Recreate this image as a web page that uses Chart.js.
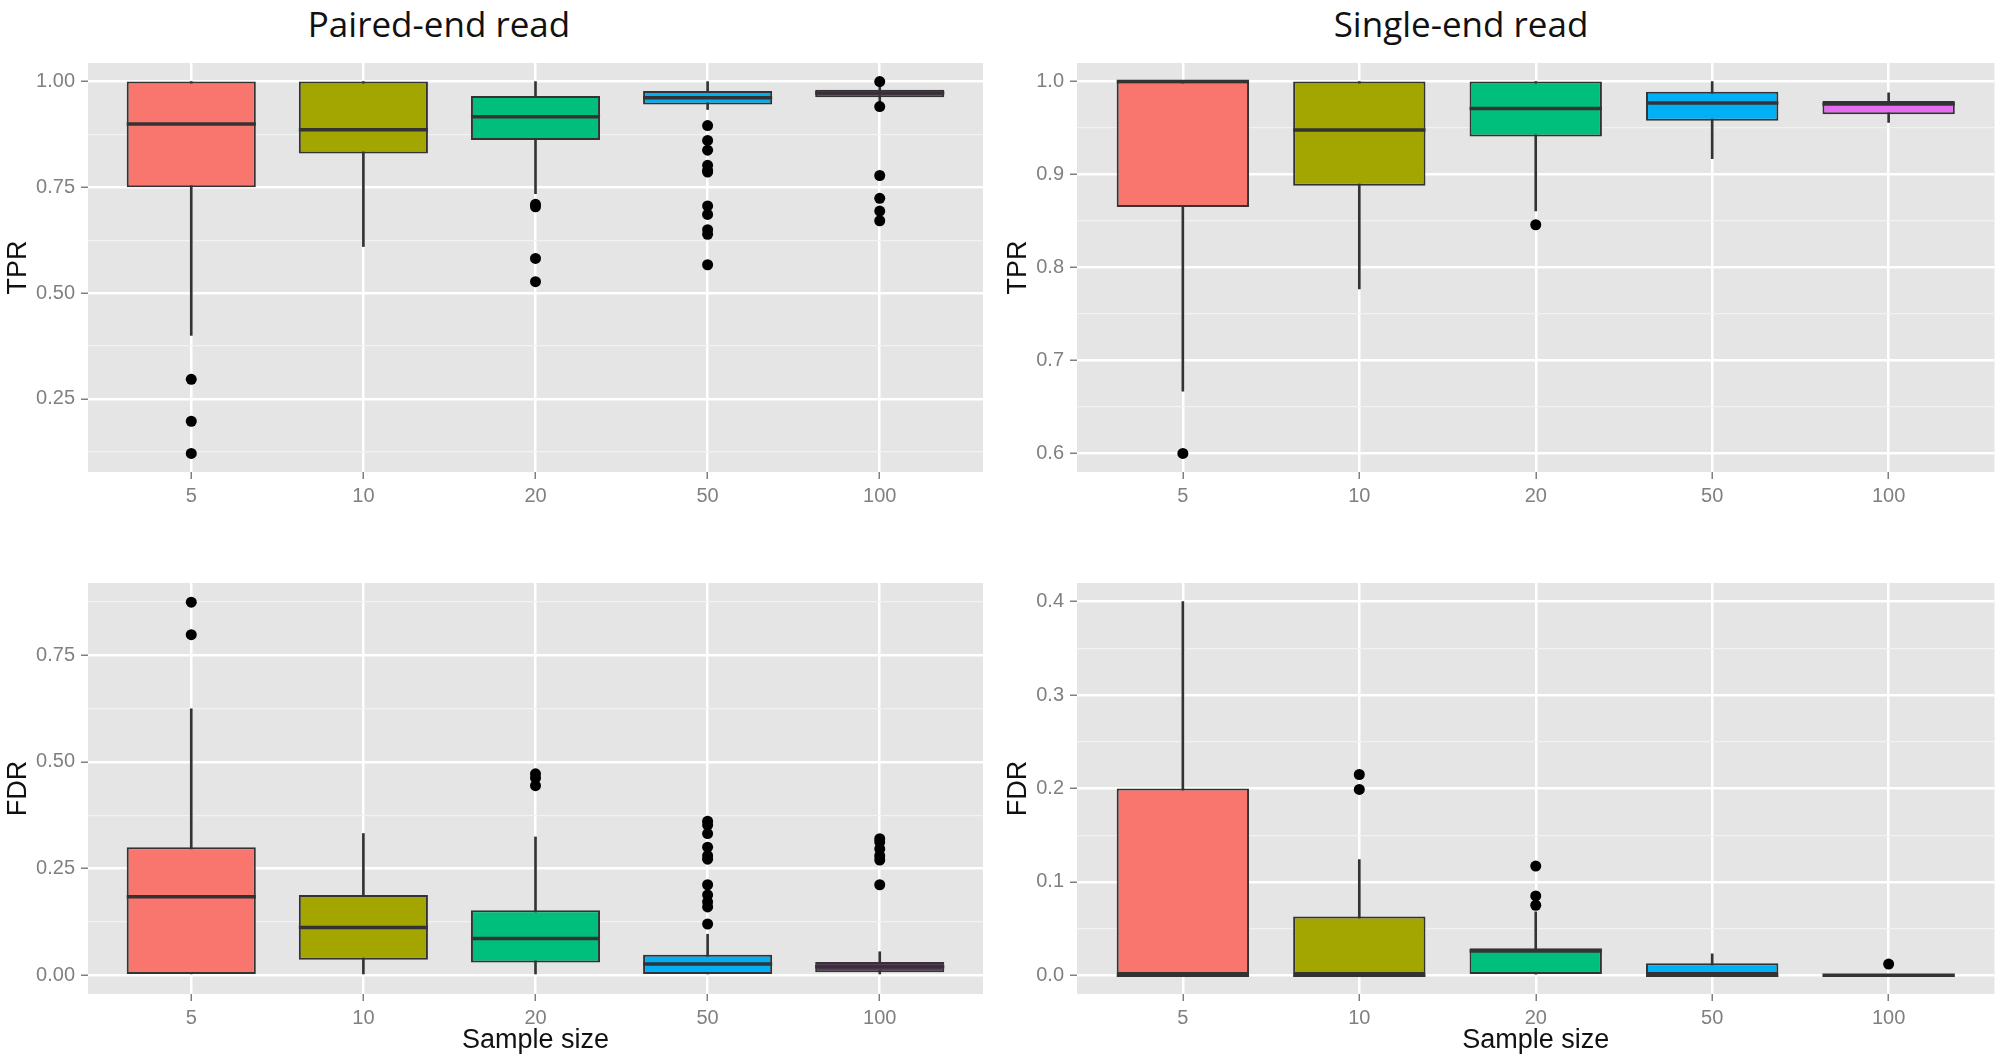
<!DOCTYPE html>
<html>
<head>
<meta charset="utf-8">
<title>TPR and FDR by sample size</title>
<script src="https://cdn.jsdelivr.net/npm/chart.js@4.4.1/dist/chart.umd.min.js"></script>
<style>
  html, body { margin: 0; padding: 0; background: #fff; }
  #page { position: relative; width: 2000px; height: 1064px; overflow: hidden; }
  canvas { position: absolute; }
  .colTitle {
    position: absolute; top: 6px;
    font-family: 'Open Sans', sans-serif; font-size: 35px; line-height: 35px;
    color: #111; transform: translateX(-50%); white-space: nowrap;
  }
</style>
</head>
<body>
<div id="page">
  <div class="colTitle" style="left:439px">Paired-end read</div>
  <div class="colTitle" style="left:1461px">Single-end read</div>
  <canvas id="pairedTpr" style="left:0;top:0"></canvas>
  <canvas id="singleTpr" style="left:1000px;top:0"></canvas>
  <canvas id="pairedFdr" style="left:0;top:532px"></canvas>
  <canvas id="singleFdr" style="left:1000px;top:532px"></canvas>
</div>
<script>
// categories
const sampleSizes = ['5', '10', '20', '50', '100'];

// paired-end TPR (whisker ends, quartiles, median, outliers)
const pairedTprLow    = [0.40, 0.61, 0.735, 0.934, 0.952];
const pairedTprQ1     = [0.75, 0.83, 0.862, 0.946, 0.963];
const pairedTprMedian = [0.90, 0.886, 0.917, 0.962, 0.973];
const pairedTprQ3     = [1.00, 1.00, 0.966, 0.978, 0.981];
const pairedTprHigh   = [1.00, 1.00, 1.00, 1.00, 0.99];
const pairedTprOutliers = [
  [0.296, 0.197, 0.121],
  [],
  [0.710, 0.704, 0.582, 0.527],
  [0.896, 0.861, 0.838, 0.802, 0.790, 0.786, 0.706, 0.686, 0.650, 0.639, 0.567],
  [1.00, 0.941, 0.778, 0.724, 0.694, 0.671]
];

// single-end TPR
const singleTprLow    = [0.667, 0.777, 0.861, 0.917, 0.956];
const singleTprQ1     = [0.865, 0.888, 0.941, 0.958, 0.965];
const singleTprMedian = [1.00, 0.948, 0.971, 0.977, 0.976];
const singleTprQ3     = [1.00, 1.00, 1.00, 0.989, 0.979];
const singleTprHigh   = [1.00, 1.00, 1.00, 1.00, 0.988];
const singleTprOutliers = [[0.60], [], [0.846], [], []];

// paired-end FDR
const pairedFdrLow    = [0, 0, 0, 0, 0];
const pairedFdrQ1     = [0, 0.036, 0.030, 0, 0.007];
const pairedFdrMedian = [0.184, 0.112, 0.086, 0.026, 0.020];
const pairedFdrQ3     = [0.300, 0.188, 0.152, 0.048, 0.031];
const pairedFdrHigh   = [0.624, 0.332, 0.324, 0.096, 0.055];
const pairedFdrOutliers = [
  [0.874, 0.798],
  [],
  [0.472, 0.462, 0.444],
  [0.361, 0.352, 0.332, 0.300, 0.280, 0.272, 0.212, 0.188, 0.172, 0.160, 0.120],
  [0.320, 0.312, 0.296, 0.280, 0.270, 0.212]
];

// single-end FDR
const singleFdrLow    = [0, 0, 0, 0, 0];
const singleFdrQ1     = [0, 0, 0, 0, 0];
const singleFdrMedian = [0, 0, 0.026, 0, 0];
const singleFdrQ3     = [0.200, 0.063, 0.029, 0.013, 0];
const singleFdrHigh   = [0.400, 0.124, 0.068, 0.023, 0];
const singleFdrOutliers = [[], [0.215, 0.199], [0.117, 0.085, 0.075], [], [0.012]];

// tick labels
const pairedTicks = [0.25, 0.50, 0.75, 1.00];
const pairedTicksMinor = [0.125, 0.375, 0.625, 0.875];
const singleTprTicks = [0.6, 0.7, 0.8, 0.9, 1.0];
const singleTprTicksMinor = [0.65, 0.75, 0.85, 0.95];
const pairedFdrTicks = [0.00, 0.25, 0.50, 0.75];
const pairedFdrTicksMinor = [0.125, 0.375, 0.625, 0.875];
const singleFdrTicks = [0.0, 0.1, 0.2, 0.3, 0.4];
const singleFdrTicksMinor = [0.05, 0.15, 0.25, 0.35];

const hueColours = ['#F8766D', '#A3A500', '#00BF7D', '#00B0F6', '#E76BF3'];
const pairedColours = ['#F8766D', '#A3A500', '#00BF7D', '#00B0F6', '#5F3763'];

const tickFont = { family: 'Liberation Sans', size: 20 };
const titleFont = { family: 'Liberation Sans', size: 27 };

// grey panel behind the plot, like ggplot
const panelBackground = {
  id: 'panelBackground',
  beforeDraw(chart) {
    const { ctx, chartArea: a } = chart;
    ctx.save();
    ctx.fillStyle = '#E5E5E5';
    ctx.fillRect(a.left, a.top, a.width, a.height);
    ctx.restore();
  }
};

function isMinor(c) {
  return c.tick && c.tick.minor;
}

function drawBoxplot(id, p) {
  const canvas = document.getElementById(id);
  canvas.width = 1000;
  canvas.height = 532;

  const xs = sampleSizes.map((s, i) => i + 1);
  const points = [];
  p.outliers.forEach((vals, i) => vals.forEach(v => points.push({ x: i + 1, y: v })));

  new Chart(canvas.getContext('2d'), {
    type: 'bar',
    data: {
      datasets: [
        {
          type: 'scatter',
          order: 0,
          data: points,
          pointRadius: 5.5,
          pointBackgroundColor: '#000',
          pointBorderWidth: 0
        },
        {
          type: 'scatter',
          order: 1,
          data: xs.map((x, i) => ({ x: x, y: p.median[i] })),
          pointStyle: 'line',
          pointBorderColor: '#333',
          pointBorderWidth: 3.5,
          pointRadius: c => {
            const s = c.chart.scales.x;
            return (s.getPixelForValue(2) - s.getPixelForValue(1)) * 0.375;
          }
        },
        {
          order: 2,
          grouped: false,
          data: xs.map((x, i) => ({ x: x, y: [p.q1[i], p.q3[i]] })),
          backgroundColor: p.colours,
          borderColor: '#333',
          borderWidth: 2,
          borderSkipped: false,
          barPercentage: 0.75,
          categoryPercentage: 1
        },
        {
          order: 3,
          grouped: false,
          data: xs.map((x, i) => ({ x: x, y: [p.low[i], p.high[i]] })),
          backgroundColor: '#333',
          borderWidth: 0,
          barThickness: 2
        }
      ]
    },
    options: {
      responsive: false,
      animation: false,
      events: [],
      layout: { padding: { left: 0, top: p.padTop, right: p.padRight, bottom: 0 } },
      plugins: { legend: { display: false }, tooltip: { enabled: false } },
      scales: {
        x: {
          type: 'linear',
          min: 0.4,
          max: 5.6,
          offset: false,
          afterBuildTicks: axis => { axis.ticks = xs.map(v => ({ value: v })); },
          afterFit: axis => { axis.height = p.axisHeight; },
          ticks: {
            autoSkip: false, maxRotation: 0, padding: 5,
            color: '#808080', font: tickFont,
            callback: (v, i) => sampleSizes[i]
          },
          grid: { color: '#fff', lineWidth: 2.5, tickColor: '#808080', tickWidth: 1.5, tickLength: 7, offset: false },
          border: { display: false },
          title: {
            display: !!p.xTitle, text: p.xTitle, color: '#111', font: titleFont,
            padding: { top: 0, bottom: 7 }
          }
        },
        y: {
          type: 'linear',
          min: p.yMin,
          max: p.yMax,
          afterBuildTicks: axis => {
            axis.ticks = p.ticks.map(v => ({ value: v }))
              .concat(p.minor.map(v => ({ value: v, minor: true })))
              .sort((a, b) => a.value - b.value);
          },
          afterFit: axis => { axis.width = p.axisWidth; },
          ticks: {
            autoSkip: false, padding: 6,
            color: '#808080', font: tickFont,
            callback: (v, i, ticks) => ticks[i].minor ? '' : v.toFixed(p.digits)
          },
          grid: {
            color: c => isMinor(c) ? '#F2F2F2' : '#fff',
            lineWidth: c => isMinor(c) ? 1.2 : 2.5,
            tickColor: c => isMinor(c) ? 'rgba(0,0,0,0)' : '#808080',
            tickWidth: 1.5,
            tickLength: 7
          },
          border: { display: false },
          title: {
            display: true, text: p.yTitle, color: '#111', font: titleFont,
            padding: { top: 2, bottom: 0 }
          }
        }
      }
    },
    plugins: [panelBackground]
  });
}

drawBoxplot('pairedTpr', {
  low: pairedTprLow, q1: pairedTprQ1, median: pairedTprMedian, q3: pairedTprQ3, high: pairedTprHigh,
  outliers: pairedTprOutliers, colours: pairedColours,
  yMin: 0.077, yMax: 1.044, ticks: pairedTicks, minor: pairedTicksMinor, digits: 2,
  yTitle: 'TPR', xTitle: '', padTop: 63, padRight: 17, axisWidth: 88, axisHeight: 60
});

drawBoxplot('singleTpr', {
  low: singleTprLow, q1: singleTprQ1, median: singleTprMedian, q3: singleTprQ3, high: singleTprHigh,
  outliers: singleTprOutliers, colours: hueColours,
  yMin: 0.58, yMax: 1.02, ticks: singleTprTicks, minor: singleTprTicksMinor, digits: 1,
  yTitle: 'TPR', xTitle: '', padTop: 63, padRight: 4, axisWidth: 77, axisHeight: 60
});

drawBoxplot('pairedFdr', {
  low: pairedFdrLow, q1: pairedFdrQ1, median: pairedFdrMedian, q3: pairedFdrQ3, high: pairedFdrHigh,
  outliers: pairedFdrOutliers, colours: pairedColours,
  yMin: -0.044, yMax: 0.919, ticks: pairedFdrTicks, minor: pairedFdrTicksMinor, digits: 2,
  yTitle: 'FDR', xTitle: 'Sample size', padTop: 51, padRight: 17, axisWidth: 88, axisHeight: 70
});

drawBoxplot('singleFdr', {
  low: singleFdrLow, q1: singleFdrQ1, median: singleFdrMedian, q3: singleFdrQ3, high: singleFdrHigh,
  outliers: singleFdrOutliers, colours: hueColours,
  yMin: -0.02, yMax: 0.42, ticks: singleFdrTicks, minor: singleFdrTicksMinor, digits: 1,
  yTitle: 'FDR', xTitle: 'Sample size', padTop: 51, padRight: 4, axisWidth: 77, axisHeight: 70
});
</script>
</body>
</html>
